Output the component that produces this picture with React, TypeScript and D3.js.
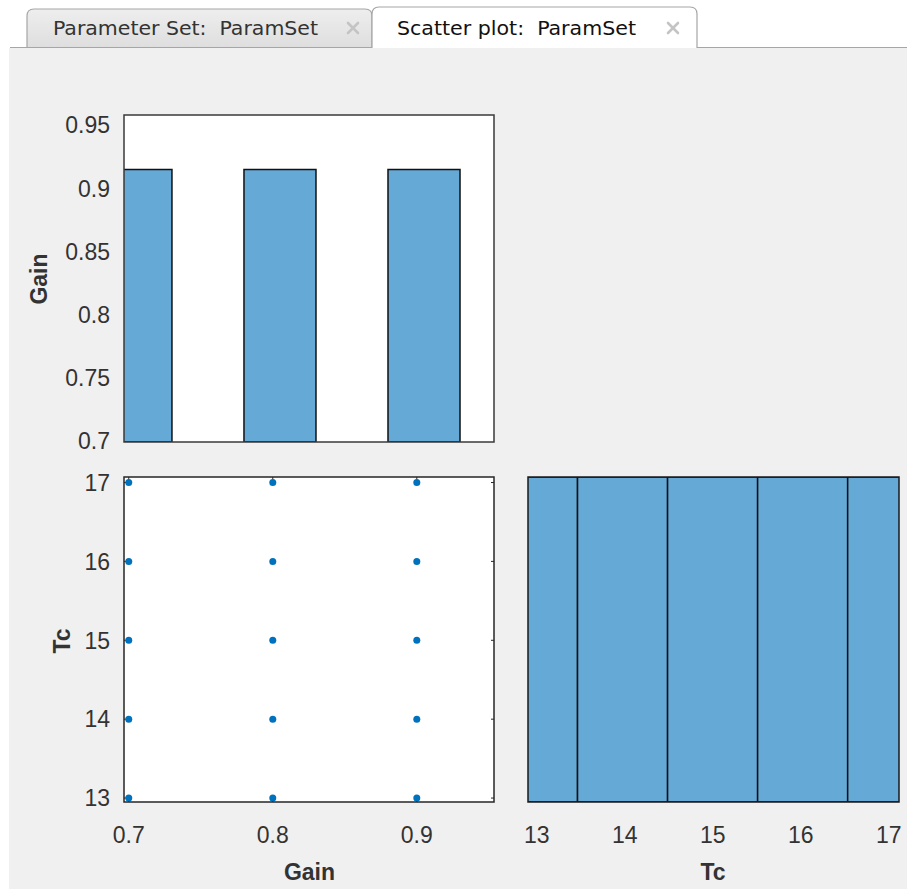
import React from "react";
import * as d3 from "d3";

// ---- data ----
const gainPoints = [0.7, 0.7, 0.7, 0.7, 0.7, 0.8, 0.8, 0.8, 0.8, 0.8, 0.9, 0.9, 0.9, 0.9, 0.9];
const tcPoints = [13, 14, 15, 16, 17, 13, 14, 15, 16, 17, 13, 14, 15, 16, 17];
const gainBinEdges = [0.68, 0.73, 0.78, 0.83, 0.88, 0.93];
const tcBinEdges = [12.5, 13.5, 14.5, 15.5, 16.5, 17.5];
const gainTicks = [0.7, 0.75, 0.8, 0.85, 0.9, 0.95];
const gainXTicks = [0.7, 0.8, 0.9];
const tcTicks = [13, 14, 15, 16, 17];
const gainXDomain = [0.6967, 0.9536];
const gainYDomain = [0.6992, 0.958];
const tcDomain = [12.95, 17.07];
const tcLabelDomain = [12.9, 17.115];
const gainCountMax = 6;
const tcCountMax = 3;
const tabLabels = ["Parameter Set:  ParamSet", "Scatter plot:  ParamSet"];

// ---- layout ----
const W = 907, H = 889;
const colGain = [124, 494];
const colTc = [528, 899];
const rowGain = [115, 442];
const rowTc = [477, 802];
const FONT = "'Liberation Sans', Arial, Helvetica, sans-serif";
const HIST_FILL = "#65a9d7";
const DOT = "#0072bd";
const TXT = "#333333";

export default function App() {
  const xGain = d3.scaleLinear().domain(gainXDomain).range(colGain);
  const yGain = d3.scaleLinear().domain(gainYDomain).range([rowGain[1], rowGain[0]]);
  const xTc = d3.scaleLinear().domain(tcDomain).range(colTc);
  const xTcLabel = d3.scaleLinear().domain(tcLabelDomain).range(colTc);
  const yTc = d3.scaleLinear().domain(tcDomain).range([rowTc[1], rowTc[0]]);
  const yCountGain = d3.scaleLinear().domain([0, gainCountMax]).range([rowGain[1], rowGain[0]]);
  const yCountTc = d3.scaleLinear().domain([0, tcCountMax]).range([rowTc[1], rowTc[0]]);

  const gainBins = d3
    .bin()
    .domain([gainBinEdges[0], gainBinEdges[gainBinEdges.length - 1]])
    .thresholds(gainBinEdges.slice(1, -1))(gainPoints);
  const tcBins = d3
    .bin()
    .domain([tcBinEdges[0], tcBinEdges[tcBinEdges.length - 1]])
    .thresholds(tcBinEdges.slice(1, -1))(tcPoints);

  const fmt = (v: number) => String(+v.toFixed(2));

  const tabPath = (x0: number, x1: number, y0: number, y1: number, r: number) =>
    `M${x0},${y1} L${x0},${y0 + r} Q${x0},${y0} ${x0 + r},${y0} L${x1 - r},${y0} Q${x1},${y0} ${x1},${y0 + r} L${x1},${y1}`;

  const closeIcon = (cx: number, cy: number) => (
    <g stroke="#c4c4c4" strokeWidth={2.6} strokeLinecap="round">
      <line x1={cx - 5} y1={cy - 5} x2={cx + 5} y2={cy + 5} />
      <line x1={cx - 5} y1={cy + 5} x2={cx + 5} y2={cy - 5} />
    </g>
  );

  return (
    <svg
      width={W}
      height={H}
      style={{ position: "absolute", left: 0, top: 0, display: "block" }}
      fontFamily={FONT}
    >
      <defs>
        <linearGradient id="tabg" x1="0" y1="0" x2="0" y2="1">
          <stop offset="0" stopColor="#eeeeee" />
          <stop offset="1" stopColor="#dedede" />
        </linearGradient>
        <clipPath id="clipTop">
          <rect x={colGain[0]} y={rowGain[0]} width={colGain[1] - colGain[0]} height={rowGain[1] - rowGain[0]} />
        </clipPath>
        <clipPath id="clipBR">
          <rect x={colTc[0]} y={rowTc[0]} width={colTc[1] - colTc[0]} height={rowTc[1] - rowTc[0]} />
        </clipPath>
      </defs>
      <rect x={0} y={0} width={W} height={H} fill="#ffffff" />
      <rect x={9} y={48} width={W - 9} height={H - 48} fill="#f0f0f0" />

      {/* tabs */}
      <path d={tabPath(27, 372, 9, 48, 7) + " Z"} fill="url(#tabg)" stroke="none" />
      <path d={tabPath(27, 372, 9, 48, 7)} fill="none" stroke="#a6a6a6" strokeWidth={1.2} />
      <path d={tabPath(372, 697, 7, 48, 7) + " Z"} fill="#ffffff" stroke="none" />
      <path d={tabPath(372, 697, 7, 48, 7)} fill="none" stroke="#a6a6a6" strokeWidth={1.2} />
      <line x1={10} x2={372} y1={47.5} y2={47.5} stroke="#a6a6a6" strokeWidth={1.2} />
      <line x1={697} x2={W} y1={47.5} y2={47.5} stroke="#a6a6a6" strokeWidth={1.2} />
      <text x={53} y={35} fontSize={20} fill="#333" textLength={265} lengthAdjust="spacingAndGlyphs" style={{ whiteSpace: "pre" }} fontFamily="'DejaVu Sans Condensed', 'DejaVu Sans', sans-serif">
        {tabLabels[0]}
      </text>
      {closeIcon(353, 28)}
      <text x={397} y={35} fontSize={20} fill="#111" textLength={239} lengthAdjust="spacingAndGlyphs" style={{ whiteSpace: "pre" }} fontFamily="'DejaVu Sans Condensed', 'DejaVu Sans', sans-serif">
        {tabLabels[1]}
      </text>
      {closeIcon(673, 28)}

      {/* top-left: Gain histogram */}
      <rect x={colGain[0]} y={rowGain[0]} width={colGain[1] - colGain[0]} height={rowGain[1] - rowGain[0]} fill="#fff" />
      <g clipPath="url(#clipTop)">
        {gainBins
          .filter((b) => b.length > 0)
          .map((b, i) => (
            <rect
              key={i}
              x={xGain(b.x0 as number)}
              y={yCountGain(b.length)}
              width={xGain(b.x1 as number) - xGain(b.x0 as number)}
              height={yCountGain(0) - yCountGain(b.length)}
              fill={HIST_FILL}
              stroke="#111"
              strokeWidth={1.5}
            />
          ))}
      </g>
      <rect x={colGain[0]} y={rowGain[0]} width={colGain[1] - colGain[0]} height={rowGain[1] - rowGain[0]} fill="none" stroke="#3a3a3a" strokeWidth={1.5} />
      {gainTicks.map((t) => (
        <text key={t} x={110} y={yGain(t)} dy="0.36em" textAnchor="end" fontSize={23} fill={TXT}>
          {fmt(t)}
        </text>
      ))}
      <text transform={`translate(47,279) rotate(-90)`} textAnchor="middle" fontSize={23} fontWeight="bold" fill={TXT}>
        Gain
      </text>

      {/* bottom-left: scatter */}
      <rect x={colGain[0]} y={rowTc[0]} width={colGain[1] - colGain[0]} height={rowTc[1] - rowTc[0]} fill="#fff" />
      {tcTicks.map((t) => (
        <g key={"yt" + t} stroke="#262626" strokeWidth={1}>
          <line x1={colGain[0]} x2={colGain[0] + 3} y1={yTc(t)} y2={yTc(t)} />
          <line x1={colGain[1] - 3} x2={colGain[1]} y1={yTc(t)} y2={yTc(t)} />
        </g>
      ))}
      {gainXTicks.map((t) => (
        <g key={"xt" + t} stroke="#262626" strokeWidth={1}>
          <line y1={rowTc[1]} y2={rowTc[1] - 3} x1={xGain(t)} x2={xGain(t)} />
          <line y1={rowTc[0]} y2={rowTc[0] + 3} x1={xGain(t)} x2={xGain(t)} />
        </g>
      ))}
      {gainPoints.map((g, i) => (
        <circle key={i} cx={xGain(g)} cy={yTc(tcPoints[i])} r={3.5} fill={DOT} />
      ))}
      <rect x={colGain[0]} y={rowTc[0]} width={colGain[1] - colGain[0]} height={rowTc[1] - rowTc[0]} fill="none" stroke="#262626" strokeWidth={1.5} />
      {tcTicks.map((t) => (
        <text key={t} x={110} y={yTc(t)} dy="0.36em" textAnchor="end" fontSize={23} fill={TXT}>
          {t}
        </text>
      ))}
      {gainXTicks.map((t) => (
        <text key={t} x={xGain(t)} y={843} textAnchor="middle" fontSize={23} fill={TXT}>
          {fmt(t)}
        </text>
      ))}
      <text transform={`translate(70,641) rotate(-90)`} textAnchor="middle" fontSize={23} fontWeight="bold" fill={TXT}>
        Tc
      </text>
      <text x={309.5} y={880} textAnchor="middle" fontSize={23} fontWeight="bold" fill={TXT}>
        Gain
      </text>

      {/* bottom-right: Tc histogram */}
      <rect x={colTc[0]} y={rowTc[0]} width={colTc[1] - colTc[0]} height={rowTc[1] - rowTc[0]} fill="#fff" />
      <g clipPath="url(#clipBR)">
        {tcBins.map((b, i) => (
          <rect
            key={i}
            x={xTc(b.x0 as number)}
            y={yCountTc(b.length)}
            width={xTc(b.x1 as number) - xTc(b.x0 as number)}
            height={yCountTc(0) - yCountTc(b.length)}
            fill={HIST_FILL}
            stroke="#111"
            strokeWidth={1.5}
          />
        ))}
      </g>
      <rect x={colTc[0]} y={rowTc[0]} width={colTc[1] - colTc[0]} height={rowTc[1] - rowTc[0]} fill="none" stroke="#1a1a1a" strokeWidth={1.5} />
      {tcTicks.map((t) => (
        <text key={t} x={xTcLabel(t)} y={843} textAnchor="middle" fontSize={23} fill={TXT}>
          {t}
        </text>
      ))}
      <text x={713} y={880} textAnchor="middle" fontSize={23} fontWeight="bold" fill={TXT}>
        Tc
      </text>
    </svg>
  );
}
